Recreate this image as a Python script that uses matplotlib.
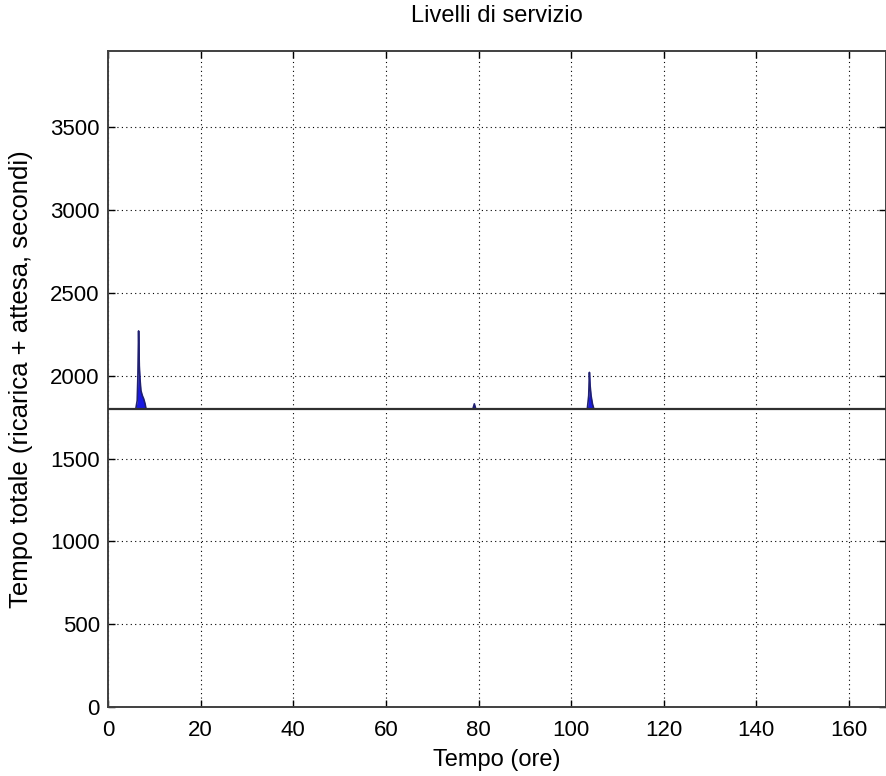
import matplotlib
matplotlib.use("Agg")
import matplotlib.pyplot as plt
import numpy as np

plt.rcParams['font.family'] = ['Liberation Sans', 'DejaVu Sans']

title = "Livelli di servizio"
xlabel = "Tempo (ore)"
ylabel = "Tempo totale (ricarica + attesa, secondi)"
service_level = 1800  # seconds
xlim = (0, 168)
ylim = (0, 3960)
xticks = [0, 20, 40, 60, 80, 100, 120, 140, 160]
yticks = [0, 500, 1000, 1500, 2000, 2500, 3000, 3500]

# spike near 6-8 h
t1 = [6.0, 6.3, 6.45, 6.6, 6.75, 6.9, 7.1, 7.4, 7.7, 8.0, 8.2]
v1 = [1800, 1850, 2000, 2270, 2060, 1980, 1910, 1880, 1860, 1830, 1800]
# small bump near 79 h
t2 = [78.8, 79.1, 79.4]
v2 = [1800, 1830, 1800]
# spike near 104 h
t3 = [103.5, 103.8, 103.95, 104.1, 104.3, 104.6, 104.9]
v3 = [1800, 1880, 2020, 1940, 1880, 1830, 1800]

fig = plt.figure(figsize=(8.87, 7.76), dpi=100)
ax = fig.add_axes([0.1218, 0.0889, 0.8771, 0.8454])

for t, v in [(t1, v1), (t2, v2), (t3, v3)]:
    ax.fill_between(t, service_level, v, color='#1a1ae0', linewidth=0, zorder=2)
    ax.plot(t, v, color='#202070', linewidth=1.2, zorder=3)

ax.axhline(service_level, color='#303030', linewidth=1.6, zorder=4)

ax.set_xlim(*xlim)
ax.set_ylim(*ylim)
ax.set_xticks(xticks)
ax.set_yticks(yticks)
ax.grid(True, color='black', linestyle=(0, (1, 3)), linewidth=0.8)
ax.tick_params(direction='in', length=5, top=True, right=True, labelsize=16, width=1.0)
ax.tick_params(axis='y', pad=6)
ax.tick_params(axis='x', pad=9)
for s in ax.spines.values():
    s.set_linewidth(1.4)
    s.set_color('#404040')

ax.set_title(title, fontsize=17, pad=21)
ax.set_xlabel(xlabel, fontsize=17)
ax.set_ylabel(ylabel, fontsize=18.5)
ax.xaxis.set_label_coords(0.5, -0.064)
ax.yaxis.set_label_coords(-0.097, 0.5)

fig.savefig("out.png", dpi=100)
